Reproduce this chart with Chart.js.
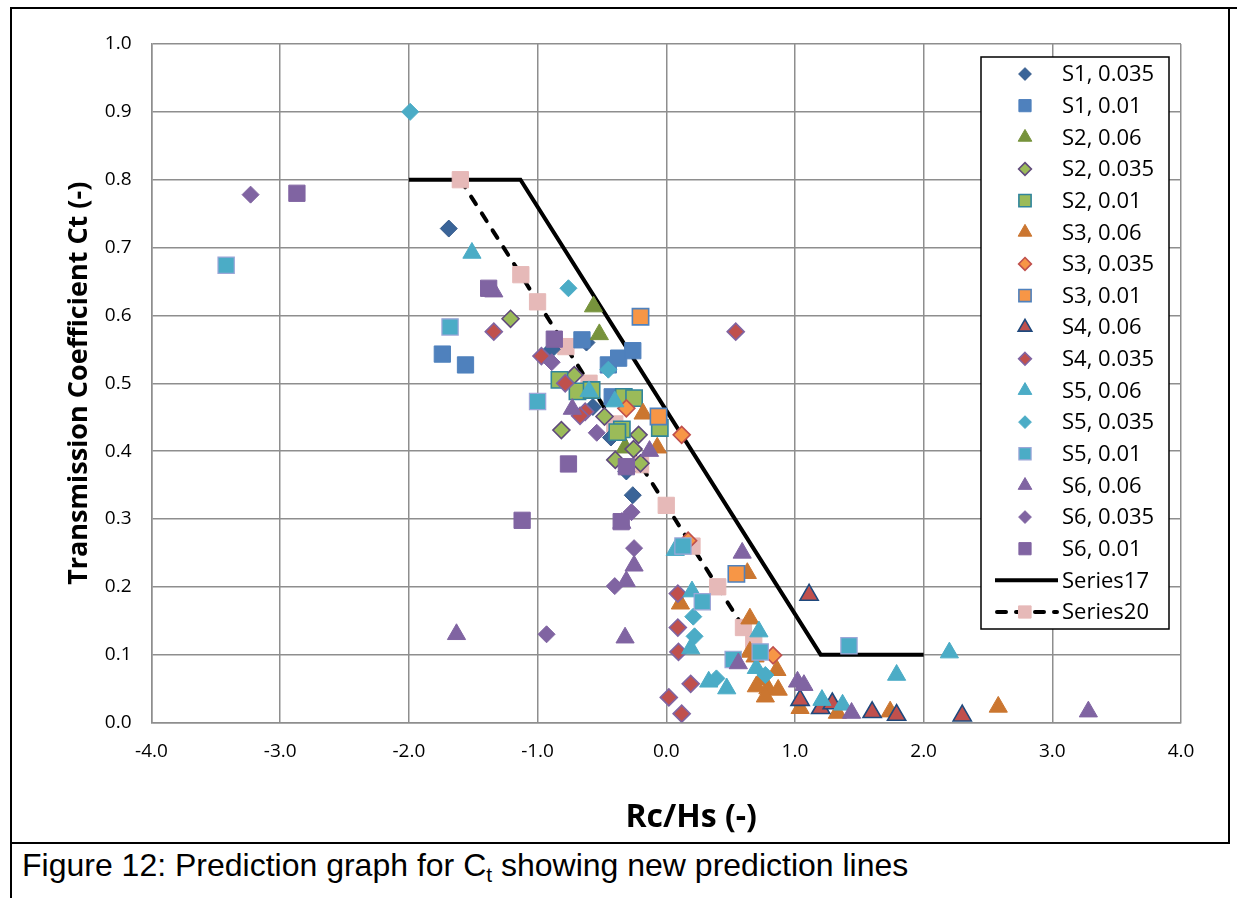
<!DOCTYPE html>
<html><head><meta charset="utf-8">
<script src="https://cdn.jsdelivr.net/npm/chart.js@4.4.0/dist/chart.umd.min.js"></script>
<style>
html,body{margin:0;padding:0;background:#fff;width:1237px;height:898px;overflow:hidden;}
#wrap{position:absolute;left:0;top:0;width:1237px;height:845px;}
.ln{position:absolute;background:#000;}
#cap{position:absolute;left:22px;top:847px;font-family:'Liberation Sans',Arial,sans-serif;font-size:32px;color:#000;white-space:nowrap;line-height:36px;}
#cap sub{font-size:21px;vertical-align:-6px;line-height:0;}
</style></head>
<body>
<div id="wrap"><canvas id="c" width="1237" height="845"></canvas></div>
<div class="ln" style="left:10px;top:7px;width:1227px;height:1.5px"></div>
<div class="ln" style="left:10px;top:7px;width:1.5px;height:891px"></div>
<div class="ln" style="left:1228px;top:7px;width:1.5px;height:837px"></div>
<div class="ln" style="left:10px;top:842px;width:1219px;height:1.5px"></div>
<div id="cap">Figure 12: Prediction graph for C<sub>t</sub> showing new prediction lines</div>
<script>
// ---- data (x = Rc/Hs, y = Ct) ----
const X_TICKS = [-4, -3, -2, -1, 0, 1, 2, 3, 4];
const Y_TICKS = [0, 0.1, 0.2, 0.3, 0.4, 0.5, 0.6, 0.7, 0.8, 0.9, 1.0];
const S1_035 = [[-1.69,0.728],[-0.89,0.55],[-0.62,0.56],[-0.57,0.465],[-0.43,0.42],[-0.31,0.37],[-0.26,0.335]];
const S1_01  = [[-1.74,0.543],[-1.56,0.527],[-0.655,0.564],[-0.45,0.527],[-0.37,0.537],[-0.26,0.548],[-0.42,0.48]];
const S2_06  = [[-0.565,0.613],[-0.52,0.572],[-0.32,0.405]];
const S2_035 = [[-1.21,0.595],[-0.715,0.512],[-0.815,0.431],[-0.48,0.451],[-0.215,0.424],[-0.254,0.403],[-0.396,0.387],[-0.2,0.382]];
const S2_01  = [[-0.83,0.505],[-0.69,0.488],[-0.58,0.49],[-0.33,0.48],[-0.25,0.478],[-0.345,0.432],[-0.38,0.428],[-0.05,0.434]];
const S3_06  = [[-0.18,0.455],[-0.07,0.405],[0.11,0.175],[0.63,0.22],[0.65,0.153],[0.65,0.104],[0.69,0.097],[0.74,0.063],[0.70,0.053],[0.79,0.05],[0.86,0.077],[0.87,0.048],[0.77,0.038],[1.04,0.021],[1.33,0.014],[1.74,0.016],[2.58,0.023]];
const S3_035 = [[-0.31,0.463],[0.12,0.424],[0.17,0.268],[0.83,0.099]];
const S3_01  = [[-0.2,0.598],[-0.06,0.451],[0.545,0.219]];
const S4_06  = [[1.11,0.188],[1.04,0.033],[1.2,0.021],[1.29,0.028],[1.6,0.015],[1.79,0.011],[2.3,0.01]];
const S4_035 = [[-1.34,0.576],[-0.97,0.54],[-0.785,0.5],[-0.63,0.458],[-0.67,0.452],[0.54,0.576],[0.09,0.19],[0.09,0.14],[0.095,0.104],[0.19,0.057],[0.02,0.037],[0.12,0.013]];
const S5_06  = [[-1.51,0.692],[-0.6,0.488],[-0.4,0.473],[0.07,0.254],[0.2,0.193],[0.19,0.109],[0.72,0.134],[0.7,0.08],[0.33,0.06],[0.47,0.05],[1.21,0.033],[1.37,0.026],[1.79,0.07],[2.2,0.103]];
const S5_035 = [[-1.99,0.9],[-0.76,0.64],[-0.45,0.52],[0.21,0.156],[0.22,0.127],[0.39,0.065],[0.77,0.07]];
const S5_01  = [[-3.42,0.674],[-1.68,0.583],[-1.0,0.473],[0.13,0.26],[0.28,0.178],[0.52,0.093],[0.73,0.104],[1.42,0.113]];
const S6_06  = [[-1.34,0.635],[-0.73,0.462],[-0.13,0.4],[-0.25,0.231],[-0.31,0.208],[-1.63,0.13],[-0.32,0.125],[-0.345,0.294],[0.59,0.25],[0.56,0.087],[1.02,0.06],[1.07,0.055],[1.44,0.014],[3.28,0.016]];
const S6_035 = [[-3.23,0.778],[-0.89,0.531],[-0.54,0.427],[-0.27,0.31],[-0.25,0.257],[-0.4,0.201],[-0.93,0.13]];
const S6_01  = [[-2.87,0.78],[-1.38,0.64],[-0.87,0.565],[-1.12,0.298],[-0.76,0.381],[-0.35,0.296],[-0.31,0.377]];
const SERIES17 = [[-2.0,0.8],[-1.133,0.8],[1.2,0.1],[2.0,0.1]];
const SERIES20 = [[-1.6,0.8],[-1.13,0.66],[-1.0,0.62],[-0.78,0.554],[-0.6,0.5],[-0.4,0.44],[-0.2,0.38],[0,0.32],[0.2,0.26],[0.4,0.2],[0.6,0.14],[0.68,0.116]];

// ---- styles ----
const SQ = 11.5, DI = 8.5, TR = 10.5;
const seriesDefs = [
 {label:'S1, 0.035', data:S1_035, shape:'rectRot', r:DI, bg:'#3A6498', bd:'#34598A', bw:1},
 {label:'S1, 0.01',  data:S1_01,  shape:'rect',    r:SQ, bg:'#4F81BD', bd:'#4F81BD', bw:1},
 {label:'S2, 0.06',  data:S2_06,  shape:'triangle',r:TR, bg:'#77933C', bd:'#77933C', bw:1},
 {label:'S2, 0.035', data:S2_035, shape:'rectRot', r:DI, bg:'#9BBB59', bd:'#604A7B', bw:1.6},
 {label:'S2, 0.01',  data:S2_01,  shape:'rect',    r:SQ, bg:'#9BBB59', bd:'#31859C', bw:1.6},
 {label:'S3, 0.06',  data:S3_06,  shape:'triangle',r:TR, bg:'#CB7630', bd:'#CB7630', bw:1},
 {label:'S3, 0.035', data:S3_035, shape:'rectRot', r:DI, bg:'#F79646', bd:'#C0504D', bw:1.6},
 {label:'S3, 0.01',  data:S3_01,  shape:'rect',    r:SQ, bg:'#F79646', bd:'#4F81BD', bw:1.6},
 {label:'S4, 0.06',  data:S4_06,  shape:'triangle',r:TR, bg:'#C0504D', bd:'#1F497D', bw:1.6},
 {label:'S4, 0.035', data:S4_035, shape:'rectRot', r:DI, bg:'#C0504D', bd:'#8064A2', bw:1.6},
 {label:'S5, 0.06',  data:S5_06,  shape:'triangle',r:TR, bg:'#4BACC6', bd:'#4BACC6', bw:1},
 {label:'S5, 0.035', data:S5_035, shape:'rectRot', r:DI, bg:'#4BACC6', bd:'#4BACC6', bw:1},
 {label:'S5, 0.01',  data:S5_01,  shape:'rect',    r:SQ, bg:'#4BACC6', bd:'#9DA6D8', bw:1.2},
 {label:'S6, 0.06',  data:S6_06,  shape:'triangle',r:TR, bg:'#8064A2', bd:'#8064A2', bw:1},
 {label:'S6, 0.035', data:S6_035, shape:'rectRot', r:DI, bg:'#8064A2', bd:'#8064A2', bw:1},
 {label:'S6, 0.01',  data:S6_01,  shape:'rect',    r:SQ, bg:'#8064A2', bd:'#8064A2', bw:1}
];
const pts = a => a.map(p => ({x:p[0], y:p[1]}));

const datasets = seriesDefs.map((s,i) => ({
  label:s.label, data:pts(s.data), showLine:false,
  pointStyle:s.shape, pointRadius:s.r, pointHoverRadius:s.r,
  pointBackgroundColor:s.bg, pointBorderColor:s.bd, pointBorderWidth:s.bw,
  backgroundColor:s.bg, borderColor:s.bd, order:16 - i
}));
datasets.push({
  label:'Series17', data:pts(SERIES17), showLine:true, pointRadius:0, pointHoverRadius:0,
  borderColor:'#000', borderWidth:4, backgroundColor:'#000', order:30, tension:0,
  borderCapStyle:'butt', borderJoinStyle:'miter'
});
datasets.push({
  label:'Series20', data:pts(SERIES20), showLine:true, pointStyle:'rect', pointRadius:SQ, pointHoverRadius:SQ,
  pointBackgroundColor:'#E6B9B8', pointBorderColor:'#E6B9B8', pointBorderWidth:1,
  borderColor:'#000', borderWidth:4, borderDash:[9,11], borderCapStyle:'round',
  backgroundColor:'#E6B9B8', order:25, tension:0
});

function marker(ctx, shape, x, y, r, fill, stroke, bw){
  ctx.beginPath();
  if (shape === 'rect'){ const s = r*Math.SQRT1_2; ctx.rect(x-s, y-s, 2*s, 2*s); }
  else if (shape === 'rectRot'){ ctx.moveTo(x, y-r); ctx.lineTo(x+r, y); ctx.lineTo(x, y+r); ctx.lineTo(x-r, y); ctx.closePath(); }
  else { for (let k=0;k<3;k++){ const a = k*2*Math.PI/3; const px = x + Math.sin(a)*r, py = y - Math.cos(a)*r; if(k===0) ctx.moveTo(px,py); else ctx.lineTo(px,py);} ctx.closePath(); }
  ctx.fillStyle = fill; ctx.fill();
  if (bw){ ctx.strokeStyle = stroke; ctx.lineWidth = bw; ctx.stroke(); }
}

const boxLegend = {
  id:'boxLegend',
  afterDraw(chart){
    const ctx = chart.ctx;
    const L = 981, T = 57, R = 1169, B = 629;
    ctx.save();
    ctx.fillStyle = '#fff'; ctx.fillRect(L, T, R-L, B-T);
    ctx.strokeStyle = '#000'; ctx.lineWidth = 1.5; ctx.strokeRect(L, T, R-L, B-T);
    const y0 = 74, step = (612-74)/17, mx = 1025, tx = 1062;
    ctx.font = "22px 'Open Sans'"; ctx.textBaseline = 'middle'; ctx.textAlign = 'left';
    seriesDefs.forEach((s,i) => {
      const y = y0 + i*step;
      marker(ctx, s.shape, mx, y, s.r*0.75, s.bg, s.bd, s.bw);
      ctx.fillStyle = '#000'; ctx.fillText(s.label, tx, y+1);
    });
    let y = y0 + 16*step;
    ctx.strokeStyle = '#000'; ctx.lineWidth = 4; ctx.setLineDash([]);
    ctx.beginPath(); ctx.moveTo(995, y); ctx.lineTo(1058, y); ctx.stroke();
    ctx.fillStyle = '#000'; ctx.fillText('Series17', tx, y+1);
    y = y0 + 17*step;
    ctx.setLineDash([9,10]); ctx.lineCap = 'round';
    ctx.beginPath(); ctx.moveTo(997, y); ctx.lineTo(1057, y); ctx.stroke();
    ctx.setLineDash([]);
    marker(ctx, 'rect', mx, y, SQ*0.75, '#E6B9B8', '#E6B9B8', 1);
    ctx.fillStyle = '#000'; ctx.fillText('Series20', tx, y+1);
    ctx.restore();
  }
};

const whiteBg = { id:'whiteBg', beforeDraw(c){ const x=c.ctx; x.save(); x.fillStyle='#fff'; x.fillRect(0,0,c.width,c.height); x.restore(); } };

Chart.defaults.font.family = "'Open Sans', sans-serif";
Chart.defaults.color = '#000';

new Chart(document.getElementById('c'), {
  type:'scatter',
  data:{ datasets },
  options:{
    responsive:false, animation:false, events:[],
    layout:{ padding:{ left:40, top:44, right:56, bottom:0 } },
    plugins:{ legend:{display:false}, tooltip:{enabled:false} },
    scales:{
      x:{
        type:'linear', min:-4, max:4,
        afterBuildTicks(s){ s.ticks = X_TICKS.map(v => ({value:v})); },
        afterFit(s){ s.height = 122.5; },
        grid:{ color:'#8e8e8e', lineWidth:1.5, drawTicks:false },
        border:{ color:'#8e8e8e', width:1.5 },
        ticks:{ padding:18, font:{size:19}, callback:v => v.toFixed(1), maxRotation:0 },
        title:{ display:true, text:'      Rc/Hs (-)', font:{size:32, weight:'bold'}, padding:{top:0, bottom:8} }
      },
      y:{
        type:'linear', min:0, max:1,
        afterBuildTicks(s){ s.ticks = Y_TICKS.map(v => ({value:v})); },
        afterFit(s){ s.width = 111.5; },
        grid:{ color:'#8e8e8e', lineWidth:1.5, drawTicks:false },
        border:{ color:'#8e8e8e', width:1.5 },
        ticks:{ padding:20, font:{size:19}, callback:v => v.toFixed(1) },
        title:{ display:true, text:'Transmission Coefficient Ct (-)', font:{size:27, weight:'bold'}, padding:{top:23, bottom:0} }
      }
    }
  },
  plugins:[whiteBg, boxLegend]
});
</script>
</body></html>
